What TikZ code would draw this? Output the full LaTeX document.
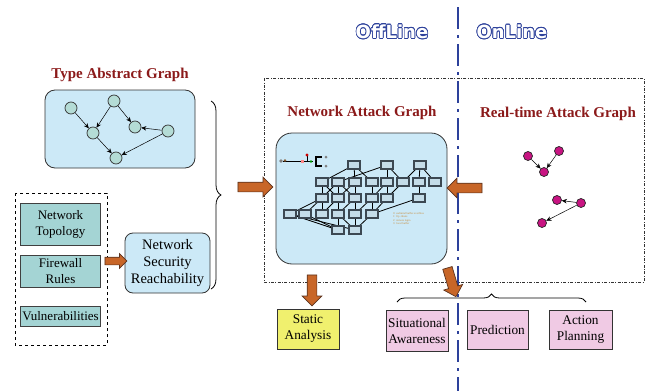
\documentclass[tikz,border=0pt]{standalone}
\usepackage{fontspec}
\setmainfont{Liberation Serif}
\newfontfamily\olfont{DejaVu Sans}
\usepackage{contour}
\usetikzlibrary{shapes.arrows,decorations.pathreplacing,arrows.meta}
\definecolor{titlered}{RGB}{139,26,26}
\definecolor{lightblue}{RGB}{204,233,247}
\definecolor{tealfill}{RGB}{164,212,212}
\definecolor{tealcirc}{RGB}{180,220,214}
\definecolor{orangefill}{RGB}{200,102,40}
\definecolor{orangedark}{RGB}{90,50,30}
\definecolor{yellowfill}{RGB}{240,240,110}
\definecolor{pinkfill}{RGB}{240,202,228}
\definecolor{lineblue}{RGB}{45,65,155}
\definecolor{magnode}{RGB}{200,20,130}
\definecolor{minifill}{RGB}{196,220,232}
\definecolor{miniedge}{RGB}{60,72,82}
\definecolor{legendcol}{RGB}{200,140,60}
\tikzset{
  titletext/.style={font=\fontsize{15}{17}\selectfont\bfseries, text=titlered, inner sep=0pt},
  rbox/.style={draw=black!80, line width=0.8pt, fill=lightblue},
  tealbox/.style={draw=black!75, line width=0.8pt, fill=tealfill, minimum width=80pt, align=center, inner sep=0pt, font=\fontsize{13}{16}\selectfont},
  outbox/.style={draw=black!80, line width=1pt, align=center, inner sep=0pt, font=\fontsize{13.3}{16}\selectfont},
  cnode/.style={circle, draw=black!80, line width=0.7pt, fill=tealcirc, minimum size=12pt, inner sep=0pt},
  mnode/.style={circle, draw=black!85, line width=0.7pt, fill=magnode, minimum size=9pt, inner sep=0pt},
  garrow/.style={-{Stealth[length=5pt,width=4.5pt]}, line width=0.5pt, black},
  oarrow/.style={single arrow, draw=orangedark, line width=0.7pt, fill=orangefill, inner xsep=0pt, inner ysep=4.5pt, single arrow head extend=5pt},
  mini/.style={draw=miniedge, line width=1.2pt, fill=minifill, minimum width=12pt, minimum height=8pt, inner sep=0pt},
  miniline/.style={line width=0.8pt, black},
  olabel/.style={font=\olfont\bfseries\fontsize{18}{20}\selectfont, inner sep=0pt}
}
\begin{document}
\begin{tikzpicture}[x=1pt,y=-1pt]
\useasboundingbox (0,0) rectangle (649,391);

% online/offline frame and separator
\draw[black!80, line width=0.6pt, dash pattern=on 3pt off 1.5pt on 0.8pt off 1.5pt] (264,78) rectangle (644,282);
\draw[lineblue, line width=2.6pt, dash pattern=on 22pt off 6pt on 3pt off 6pt] (458,7) -- (458,391);
\contourlength{0.7pt}
\node[olabel] (offl) at (392,32) {\contour{lineblue}{\color{white}OffLine}};
\node[olabel] (onl) at (512,32) {\contour{lineblue}{\color{white}OnLine}};

% Type abstract graph
\node[titletext] (tagt) at (120,75) {Type Abstract Graph};
\node[rbox, rounded corners=10pt, minimum width=150pt, minimum height=78pt] (tag) at (120,129) {};
\node[cnode] (t1) at (71,108) {};
\node[cnode] (t2) at (114,101) {};
\node[cnode] (t3) at (93,133) {};
\node[cnode] (t4) at (135,127) {};
\node[cnode] (t5) at (168,131) {};
\node[cnode] (t6) at (116,158) {};
\draw[garrow] (t1) -- (t3);
\draw[garrow] (t2) -- (t3);
\draw[garrow] (t2) -- (t4);
\draw[garrow] (t5) -- (t4);
\draw[garrow] (t3) -- (t6);
\draw[garrow] (t5) -- (t6);

% inputs
\draw[black, line width=0.7pt, dashed] (15,193) rectangle (107,345);
\node[tealbox, minimum height=42pt] (topo) at (60.5,224) {Network\\Topology};
\node[tealbox, minimum height=32pt] (fw) at (60.5,271) {Firewall\\Rules};
\node[tealbox, minimum height=20pt] (vul) at (60.5,316) {Vulnerabilities};
\node[rbox, rounded corners=8pt, minimum width=85pt, minimum height=60pt, align=center, inner sep=0pt, font=\fontsize{14.5}{17}\selectfont] (reach) at (167.5,263) {Network\\Security\\Reachability};
\node[oarrow, minimum height=22pt, inner ysep=3.5pt, single arrow head extend=3.5pt] (a0) at (114,261) {};

% brace
\coordinate (bt) at (211,101);
\coordinate (bb) at (211,289);
\draw[black, line width=0.8pt, decorate, decoration={brace, amplitude=10pt}] (bt) -- (bb);

% network attack graph
\node[titletext] (nagt) at (362,113) {Network Attack Graph};
\node[rbox, rounded corners=16pt, minimum width=171pt, minimum height=131pt] (nag) at (361.5,198.5) {};
\node[oarrow, minimum height=35pt] (a1) at (253,187) {};
\node[oarrow, minimum height=35pt, rotate=180] (a2) at (467,188) {};

% icon
\draw[black, line width=0.8pt] (283,161) -- (313,161);
\fill[gray] (281,161) circle (1.8pt);
\fill[brown!70!black] (285,160.5) circle (1.3pt);
\fill[pink!70!red] (301,159.5) rectangle (304,162.5);
\draw[black, line width=0.6pt] (307,161) -- (307,156);
\fill[red!80!black] (307,155) circle (1.6pt);
\fill[green!60!black] (311,161.5) circle (1.4pt);
\draw[black, line width=1.2pt] (322,157) -- (316,157) -- (316,166) -- (322,166);
\fill[gray] (326,157) circle (1.5pt);
\fill[gray] (326,166) circle (1.5pt);

% mini attack graph
\foreach \n/\x/\y in {A1/354/165,A2/387/165,A3/420/165,
  B1/322/182,B2/338/182,B3/355/182,B4/372/182,B5/387/182,B6/403/182,B7/419/182,B8/435/182,
  C1/322/198,C2/338/198,C3/355/198,C4/372/198,C5/387/198,C7/419/198,
  D1/290/214,D2/305/214,D3/322/214,D4/338/214,D5/355/214,D6/372/214,
  E1/338/230,E2/355/230}
  \coordinate (p\n) at (\x,\y);
\foreach \a/\b in {A1/B1,A1/B3,A1/B4,A2/B2,A2/B5,A2/B6,A3/B6,A3/B8,A3/B7,
  B1/C1,B1/C2,B2/C1,B2/C3,B3/C2,B3/C3,B4/C4,B5/C4,B5/C5,B6/C5,B7/C7,B2/C2,
  C1/D1,C1/D2,C1/D3,C2/D3,C2/D4,C3/D4,C4/D5,C4/D6,C5/D6,C7/D6,C3/D5,
  D1/E1,D1/E2,D2/E1,D4/E1,D5/E2,D6/E2,D4/E2}
  \draw[miniline] (p\a) -- (p\b);
\foreach \n in {A1,A2,A3,B1,B2,B3,B4,B5,B6,B7,B8,C1,C2,C3,C4,C5,C7,D1,D2,D3,D4,D5,D6,E1,E2}
  \node[mini] (m\n) at (p\n) {};
\node[anchor=north west, inner sep=0pt, align=left, text=legendcol, font=\fontsize{2.8}{3.6}\selectfont] (leg) at (393,212) {0: sadmind buffer overflow\\1: ftp .rhosts\\2: remote login\\3: local buffer};

% real-time attack graph
\node[titletext] (rtt) at (558,114) {Real-time Attack Graph};
\node[mnode] (r1) at (528,156) {};
\node[mnode] (r2) at (559,151) {};
\node[mnode] (r3) at (544,172) {};
\node[mnode] (r4) at (557,200) {};
\node[mnode] (r5) at (581,203) {};
\node[mnode] (r6) at (542,223) {};
\draw[garrow] (r1) -- (r3);
\draw[garrow] (r2) -- (r3);
\draw[garrow] (r5) -- (r4);
\draw[garrow] (r5) -- (r6);

% outputs
\node[oarrow, minimum height=31pt, rotate=-90] (a3) at (312,288) {};
\node[oarrow, minimum height=30pt, rotate=-73.5] (a4) at (451,280) {};
\node[outbox, fill=yellowfill, minimum width=62pt, minimum height=40pt] (sa) at (308,329) {Static\\Analysis};
\node[outbox, fill=pinkfill, minimum width=62pt, minimum height=41pt] (sit) at (417,330.5) {Situational\\Awareness};
\node[outbox, fill=pinkfill, minimum width=61pt, minimum height=39pt] (pred) at (497.5,329.5) {Prediction};
\node[outbox, fill=pinkfill, minimum width=63pt, minimum height=39pt] (ap) at (580.5,329.5) {Action\\Planning};
\coordinate (hb1) at (397,302);
\coordinate (hb2) at (586,302);
\draw[black, line width=0.8pt, decorate, decoration={brace, amplitude=8pt}] (hb1) -- (hb2);
\end{tikzpicture}
\end{document}
